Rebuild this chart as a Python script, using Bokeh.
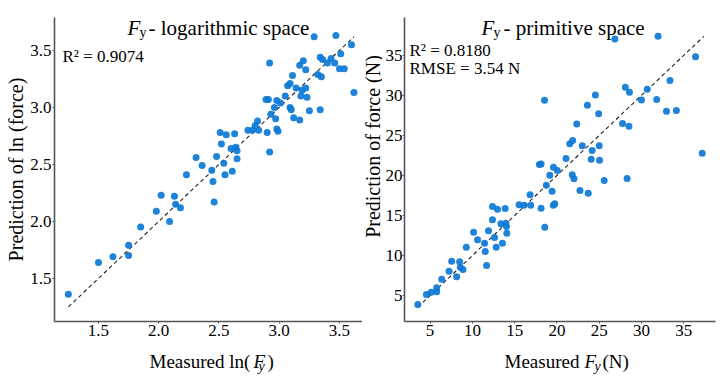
import math
from bokeh.plotting import figure
from bokeh.models import Label, FixedTicker, NumeralTickFormatter, Range1d
from bokeh.layouts import row, column
from bokeh.embed import file_html
from bokeh.resources import INLINE

FONT = "Liberation Serif"
DOT = "#0b78d6"

# ---- Left panel: logarithmic space ----
log_measured = [1.25, 1.50, 1.62, 1.75, 1.75, 1.85, 1.98, 2.02, 2.13, 2.14, 2.18, 2.09,
                2.23, 2.45, 2.46, 2.55, 2.61, 2.31, 2.36, 2.44, 2.48, 2.52, 2.51, 2.56,
                2.63, 2.54, 2.60, 2.64, 2.65, 2.65, 2.74, 2.78, 2.83, 2.82, 2.90, 2.92,
                2.89, 2.91, 2.98, 3.01, 2.96, 3.09, 3.10, 3.34, 3.25, 2.93, 2.97, 3.12,
                3.17, 2.98, 2.99, 3.29, 3.47, 3.60, 2.92, 3.34, 3.36, 3.43, 3.51, 3.40,
                3.46, 3.50, 3.54, 3.20, 3.17, 3.22, 3.11, 3.32, 3.35, 3.07, 3.09, 3.14,
                3.19, 3.22, 3.05, 3.18, 3.23, 3.62, 2.80]
log_predicted = [1.36, 1.64, 1.69, 1.79, 1.70, 1.95, 2.09, 2.23, 2.22, 2.15, 2.12, 2.00,
                 2.41, 2.35, 2.17, 2.41, 2.44, 2.56, 2.49, 2.45, 2.57, 2.68, 2.78, 2.76,
                 2.77, 2.51, 2.64, 2.65, 2.62, 2.55, 2.80, 2.80, 2.80, 2.88, 2.78, 2.61,
                 3.07, 3.07, 3.06, 3.04, 3.00, 3.00, 2.98, 2.98, 2.97, 2.94, 2.90, 2.91,
                 2.89, 2.81, 2.79, 3.62, 3.63, 3.55, 3.39, 3.44, 3.42, 3.43, 3.47, 3.39,
                 3.39, 3.34, 3.34, 3.41, 3.37, 3.33, 3.28, 3.29, 3.27, 3.19, 3.21, 3.17,
                 3.15, 3.17, 3.10, 3.10, 3.09, 3.13, 2.84]
log_diag = [1.25, 3.62]
log_ticks = [1.5, 2.0, 2.5, 3.0, 3.5]
log_r2 = "R\u00b2 = 0.9074"

# ---- Right panel: primitive space ----
prim_measured = [3.54, 4.56, 5.12, 5.78, 5.78, 6.37, 7.24, 7.55, 8.14, 8.49, 8.57, 8.89,
                 9.28, 10.14, 10.62, 11.68, 11.52, 11.44, 11.91, 12.38, 12.38, 12.97, 13.88,
                 12.62, 12.82, 13.38, 13.97, 14.04, 14.08, 13.56, 15.53, 16.12, 16.91, 16.83,
                 18.13, 18.57, 18.75, 19.16, 19.43, 19.58, 19.75, 20.05, 19.59, 21.82, 22.02,
                 22.73, 23.71, 25.60, 28.31, 21.08, 24.06, 25.05, 21.52, 21.87, 23.00, 24.18,
                 25.01, 37.20, 22.35, 27.77, 28.53, 23.61, 24.94, 24.56, 18.54, 28.10, 28.59,
                 30.69, 30.01, 31.81, 32.97, 34.14, 33.38, 36.41, 26.86, 31.97, 17.93, 18.13]
prim_predicted = [3.88, 5.13, 5.41, 5.96, 5.46, 7.04, 8.04, 9.29, 7.34, 9.21, 8.54, 8.25,
                  11.04, 12.91, 11.96, 8.75, 10.50, 11.54, 13.09, 14.46, 16.13, 15.79, 15.88,
                  12.25, 11.04, 13.96, 14.04, 13.63, 12.79, 11.54, 16.34, 16.29, 16.29, 17.59,
                  15.91, 13.54, 18.79, 20.04, 18.04, 16.29, 16.46, 20.63, 21.04, 20.09, 19.59,
                  18.13, 17.79, 19.38, 19.63, 22.13, 22.04, 21.91, 23.96, 24.38, 23.71, 23.13,
                  23.71, 22.79, 26.44, 26.50, 26.15, 28.79, 27.73, 30.06, 29.40, 31.04, 30.41,
                  30.78, 29.44, 29.50, 28.04, 28.13, 31.88, 34.85, 37.06, 37.41, 21.38, 21.45]
prim_diag = [3.54, 37.4]
prim_ticks = [5, 10, 15, 20, 25, 30, 35]
prim_r2 = "R\u00b2 = 0.8180"
prim_rmse = "RMSE = 3.54 N"


def lab(p, x, y, text, size, style="normal", angle=0.0, align="left", baseline="alphabetic"):
    p.add_layout(Label(x=x, y=y, x_units="screen", y_units="screen", text=text,
                       text_font=FONT, text_font_size=f"{size}px", text_font_style=style,
                       text_color="black", angle=angle, text_align=align,
                       text_baseline=baseline))


def strip(w, h):
    s = figure(width=w, height=h, output_backend="svg", toolbar_location=None,
               x_range=Range1d(0, 1), y_range=Range1d(0, 1),
               x_axis_location=None, y_axis_location=None,
               min_border_left=0, min_border_right=0, min_border_top=0, min_border_bottom=0)
    s.outline_line_color = None
    s.xgrid.visible = False
    s.ygrid.visible = False
    return s


def base_fig(w, xr, yr, bl, br, ticks, fmt, ylabel=None):
    p = figure(width=w, height=346, output_backend="svg", toolbar_location=None,
               x_range=Range1d(*xr), y_range=Range1d(*yr),
               min_border_left=bl, min_border_right=br, min_border_top=17,
               min_border_bottom=25)
    p.outline_line_color = None
    p.xgrid.visible = False
    p.ygrid.visible = False
    p.background_fill_color = "white"
    for ax in (p.xaxis[0], p.yaxis[0]):
        ax.ticker = FixedTicker(ticks=ticks)
        ax.formatter = NumeralTickFormatter(format=fmt)
        ax.axis_line_color = "#555555"
        ax.axis_line_width = 1.6
        ax.major_tick_line_color = "#555555"
        ax.major_tick_out = 2
        ax.major_tick_in = 0
        ax.minor_tick_line_color = None
        ax.major_label_text_font = FONT
        ax.major_label_text_font_size = "17px"
        ax.major_label_text_color = "black"
    p.xaxis[0].major_label_standoff = 1
    p.yaxis[0].major_label_standoff = 1
    if ylabel:
        p.yaxis[0].axis_label = ylabel
        p.yaxis[0].axis_label_text_font = FONT
        p.yaxis[0].axis_label_text_font_size = "20px"
        p.yaxis[0].axis_label_text_font_style = "normal"
        p.yaxis[0].axis_label_text_color = "black"
        p.yaxis[0].axis_label_standoff = 0
    return p


# Left figure
p1 = base_fig(362, (1.135, 3.691), (1.122, 3.789), 54, 0, log_ticks, "0.0", "Prediction of ln (force)")
p1.line(log_diag, log_diag, line_color="#222222", line_width=1.1, line_dash="4 3")
p1.scatter(log_measured, log_predicted, size=7, fill_color=DOT, line_color=None, fill_alpha=0.92)
lab(p1, 73, 294, "F", 21, "italic")
lab(p1, 85, 289.5, "y", 14)
lab(p1, 94, 294, "- logarithmic space", 21)
lab(p1, 8, 265, log_r2, 17)

# Strip holding the right panel's y-axis title
sy = strip(20, 346)
lab(sy, 10, 175, "Prediction of force (N)", 20, angle=math.pi / 2, align="center", baseline="middle")

# Right figure
p2 = base_fig(342, (1.968, 38.77), (1.75, 39.75), 21, 9, prim_ticks, "0")
p2.yaxis[0].major_label_standoff = 0
p2.line(prim_diag, prim_diag, line_color="#222222", line_width=1.1, line_dash="4 3")
p2.scatter(prim_measured, prim_predicted, size=7, fill_color=DOT, line_color=None, fill_alpha=0.92)
lab(p2, 77, 294, "F", 21, "italic")
lab(p2, 89, 289.5, "y", 14)
lab(p2, 99, 294, "- primitive space", 21)
lab(p2, 5, 271, prim_r2, 17)
lab(p2, 5, 253, prim_rmse, 17)

# Strip under both panels holding the x-axis titles (italic F with subscript y)
sx = strip(724, 30)
lab(sx, 149, 15, "Measured ln(", 19)
lab(sx, 253, 15, "F", 19, "italic")
lab(sx, 258, 10, "y", 14, "italic")
lab(sx, 267, 15, ")", 19)
lab(sx, 504, 15, "Measured", 19)
lab(sx, 584, 15, "F", 19, "italic")
lab(sx, 594, 10, "y", 14, "italic")
lab(sx, 602, 15, "(N)", 19)

layout = column(row(p1, sy, p2), sx)
open("out.html", "w").write(file_html(layout, INLINE))
